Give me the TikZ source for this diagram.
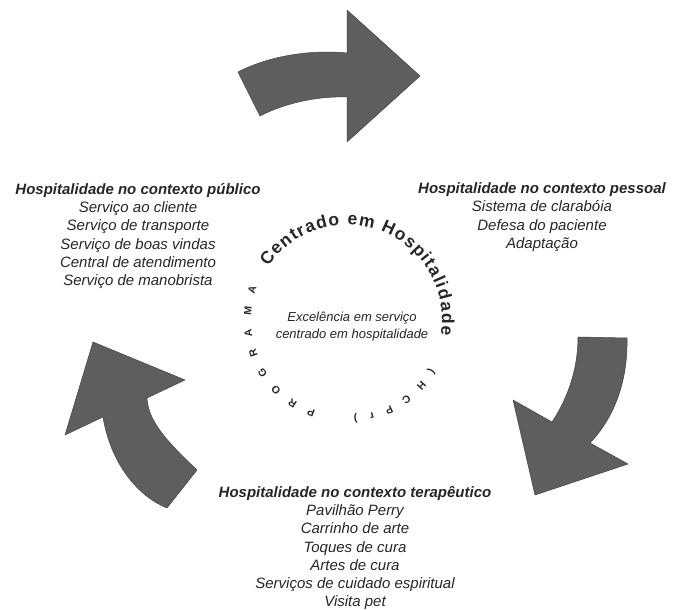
\documentclass[tikz,border=0pt]{standalone}
\usepackage{fontspec}
\setmainfont{Liberation Sans}
\usepackage{tikz}
\usetikzlibrary{decorations.text}

\definecolor{arrowgray}{HTML}{5E5E5E}
\definecolor{inkgray}{HTML}{262626}

\begin{document}
\begin{tikzpicture}[
  x=1pt, y=1pt,
  cycle arrow/.style = {fill=arrowgray, draw=arrowgray!70!black, line width=0.5pt, line join=round},
  context/.style = {align=center, text=inkgray, font=\fontsize{15}{18.3}\selectfont\itshape},
  core text/.style = {align=center, text=inkgray, font=\fontsize{13}{17}\selectfont\itshape},
  ring/.style = {decorate, decoration={text along path, text align=fit to path, text color=inkgray, #1}}
]
  \useasboundingbox (0,0) rectangle (673,610);

  % three curved arrows of the cycle
  \draw[cycle arrow] (238,538) .. controls (265,552) and (305,561) .. (347,557)
        -- (347,600) -- (420,534) -- (347,468) -- (347,513)
        .. controls (315,514) and (283,506) .. (260,494) -- cycle;
  \draw[cycle arrow] (578,273) -- (627,272)
        .. controls (628,225) and (612,190) .. (590,167)
        -- (628,146) -- (535,115) -- (513,210) -- (552,188)
        .. controls (570,215) and (578,245) .. cycle;
  \draw[cycle arrow] (167,102) -- (197,140)
        .. controls (165,170) and (148,190) .. (147,212)
        -- (185,230) -- (93,268) -- (65,175) -- (103,193)
        .. controls (110,150) and (135,115) .. cycle;

  % the three contexts
  \node[context] (ctxpub) at (138,374) {{\bfseries Hospitalidade no contexto público}\\
        Serviço ao cliente\\ Serviço de transporte\\ Serviço de boas vindas\\
        Central de atendimento\\ Serviço de manobrista};
  \node[context] (ctxpes) at (542,393) {{\bfseries Hospitalidade no contexto pessoal}\\
        Sistema de clarabóia\\ Defesa do paciente\\ Adaptação};
  \node[context] (ctxter) at (355,62) {{\bfseries Hospitalidade no contexto terapêutico}\\
        Pavilhão Perry\\ Carrinho de arte\\ Toques de cura\\ Artes de cura\\
        Serviços de cuidado espiritual\\ Visita pet};

  % programme in the middle
  \coordinate (hub) at (347,290);
  \node[core text] (core) at (352,283) {Excelência em serviço\\ centrado em hospitalidade};
  \path[ring={text={|\bfseries\fontsize{10.5}{10.5}\selectfont|PROGRAMA}}]
        ([shift={(251:96pt)}]hub) arc[start angle=251, end angle=160, radius=96pt];
  \path[ring={text={|\bfseries\fontsize{17.5}{17.5}\selectfont|Centrado em Hospitalidade}}]
        ([shift={(146:95pt)}]hub) arc[start angle=146, end angle=-9, radius=95pt];
  \path[ring={text={|\bfseries\fontsize{10.5}{10.5}\selectfont|(HCPr)}}]
        ([shift={(-30:96pt)}]hub) arc[start angle=-30, end angle=-86, radius=96pt];
\end{tikzpicture}
\end{document}
